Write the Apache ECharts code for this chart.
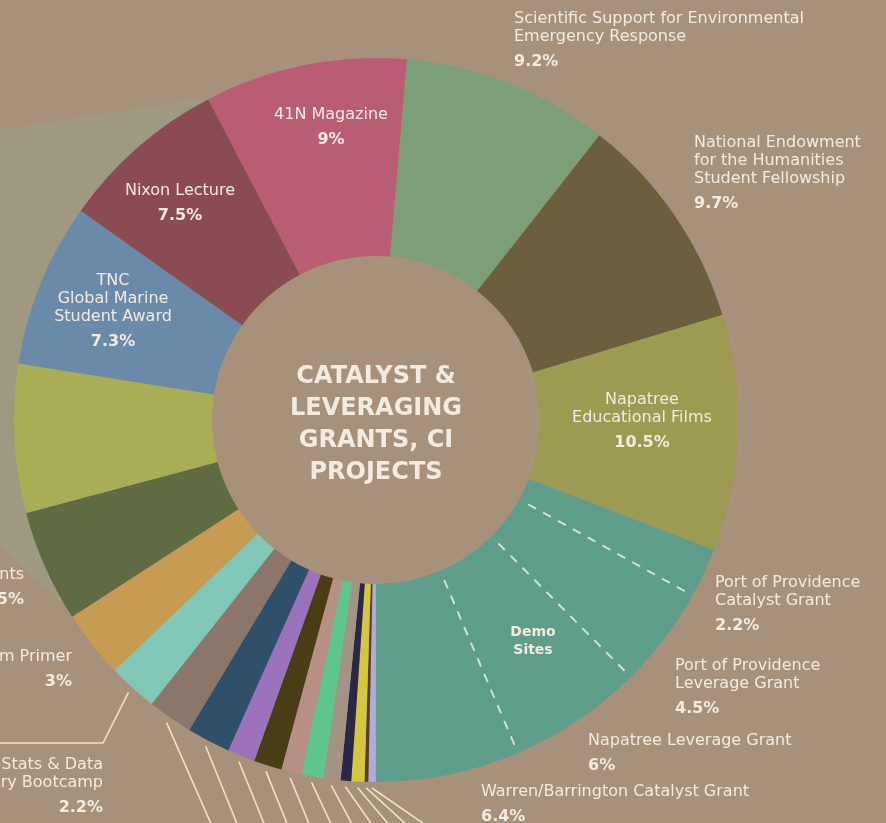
<!DOCTYPE html>
<html><head><meta charset="utf-8">
<script src="https://cdn.jsdelivr.net/npm/echarts@6/dist/echarts.min.js"></script>
<style>html,body{margin:0;padding:0;background:#a8917a;}#c{width:886px;height:823px;}</style>
</head><body><div id="c"></div>
<script>
// ---- data (clockwise from the top) ----
const sliceNames = [
  'Scientific Support for Environmental\nEmergency Response',
  'National Endowment\nfor the Humanities\nStudent Fellowship',
  'Napatree\nEducational Films',
  'Port of Providence\nCatalyst Grant',
  'Port of Providence\nLeverage Grant',
  'Napatree Leverage Grant',
  'Warren/Barrington Catalyst Grant',
  'Other project 1', 'Other project 2', 'Other project 3', 'Other project 4',
  'Other project 5', 'Other project 6', 'Other project 7', 'Other project 8',
  'Other project 9', 'Other project 10', 'Other project 11',
  'Stats & Data\nry Bootcamp',
  'm Primer',
  'nts',
  'Other project 12',
  'TNC\nGlobal Marine\nStudent Award',
  'Nixon Lecture',
  '41N Magazine'
];
const sliceValues = [9.2, 9.7, 10.5, 2.2, 4.5, 6, 6.4,
  0.33, 0.17, 0.58, 0.47, 0.75, 0.97, 0.92, 1.25, 1.22, 1.94, 2.0,
  2.2, 3, 5, 6.6, 7.3, 7.5, 9];
const sliceColors = ['#7d9f77', '#6d5f3e', '#9d9a52', '#5e9d8a', '#5e9d8a', '#5e9d8a', '#5e9d8a',
  '#b3a9dd', '#5a4020', '#d4c640', '#2b2847', '#a39384', '#5fc68b', '#b78f84', '#4a3d15',
  '#9c72bd', '#2f4f6b', '#8c766a', '#80c7b8', '#c89b52', '#5f6c43', '#a9ae56',
  '#6a8aa9', '#8b4b53', '#b95d73'];
const demoSiteIdx = [3, 4, 5, 6];          // sub-slices grouped as "Demo Sites"
const smallIdx = [7, 8, 9, 10, 11, 12, 13, 14, 15, 16, 17]; // labels below the frame

// ---- layout ----
const CX = 376, CY = 420, R0 = 164, R1 = 362, START_DEG = 4.9;
const labelPos = { // dataIndex: [x, top, align]
  0: [514, 10, 'left'], 1: [694, 134, 'left'], 2: [642, 391, 'center'],
  3: [715, 574, 'left'], 4: [675, 657, 'left'], 5: [588, 732, 'left'], 6: [481, 783, 'left'],
  18: [103, 756, 'right'], 19: [72, 648, 'right'], 20: [24, 566, 'right'],
  22: [113, 272, 'center'], 23: [180, 182, 'center'], 24: [331, 106, 'center']
};
const smallLineEndX = [427, 408, 390, 373, 353, 332, 310, 288, 265, 238, 212];
const TXT = '#f3ebdf';
const FONT = '"DejaVu Sans", "Liberation Sans", sans-serif';

const total = sliceValues.reduce((a, b) => a + b, 0);
const cum = [0];
sliceValues.forEach((v, i) => cum.push(cum[i] + v));
const ang = c => (START_DEG + c / total * 360) * Math.PI / 180;
const polar = (t, r) => [CX + r * Math.sin(t), CY - r * Math.cos(t)];
const midAng = i => ang((cum[i] + cum[i + 1]) / 2);

const graphics = [];
// faint translucent callout wedge behind the donut
graphics.push({ type: 'polygon', z: 0, silent: true,
  shape: { points: [[0, 130], [250, 91], [200, 200], [100, 420], [120, 600], [75, 615], [0, 545]] },
  style: { fill: '#9c9c84', opacity: 0.7 } });
// dashed separators between Demo Sites sub-slices
for (let k = 1; k < demoSiteIdx.length; k++) {
  const t = ang(cum[demoSiteIdx[k]]);
  const a = polar(t, R0 + 10), b = polar(t, R1 - 6);
  graphics.push({ type: 'line', z: 10, silent: true,
    shape: { x1: a[0], y1: a[1], x2: b[0], y2: b[1] },
    style: { stroke: 'rgba(225,238,228,0.85)', lineWidth: 2, lineDash: [9, 8] } });
}
// connector lines to labels below the frame
smallIdx.forEach((idx, k) => {
  const s = polar(midAng(idx), R1 + 6);
  graphics.push({ type: 'line', z: 10, silent: true,
    shape: { x1: s[0], y1: s[1], x2: smallLineEndX[k], y2: 826 },
    style: { stroke: '#eee2cc', lineWidth: 1.6 } });
});
// connector for Stats & Data slice
(function () {
  const s = polar(midAng(18), R1 + 6);
  graphics.push({ type: 'polyline', z: 10, silent: true,
    shape: { points: [s, [103, 743], [-5, 743]] },
    style: { stroke: '#eee2cc', lineWidth: 1.6, fill: null } });
})();
// group label
graphics.push({ type: 'text', z: 20, silent: true,
  style: { text: 'Demo\nSites', x: 533, y: 641, align: 'center', verticalAlign: 'middle',
    font: 'bold 14px ' + FONT, lineHeight: 18, fill: TXT } });
// centre title
graphics.push({ type: 'text', z: 20, silent: true,
  style: { text: 'CATALYST &\nLEVERAGING\nGRANTS, CI\nPROJECTS', x: CX, y: 425,
    align: 'center', verticalAlign: 'middle', font: 'bold 24px ' + FONT, lineHeight: 32, fill: TXT } });

const chart = echarts.init(document.getElementById('c'), null, { renderer: 'canvas' });
chart.setOption({
  backgroundColor: '#a8917a',
  animation: false,
  graphic: graphics,
  series: [{
    type: 'pie', z: 2,
    center: [CX, CY], radius: [R0, R1],
    startAngle: 90 - START_DEG, clockwise: true,
    avoidLabelOverlap: false,
    emphasis: { disabled: true },
    itemStyle: { borderWidth: 0 },
    label: {
      show: true, position: 'inside',
      formatter: p => labelPos[p.dataIndex] ? '{n|' + p.name + '}\n{p|' + p.value + '%}' : '',
      rich: {
        n: { fontFamily: FONT, fontSize: 16, color: TXT, lineHeight: 18 },
        p: { fontFamily: FONT, fontSize: 16, fontWeight: 'bold', color: TXT, lineHeight: 32 }
      }
    },
    labelLine: { show: false },
    labelLayout: p => {
      const lp = labelPos[p.dataIndex];
      if (!lp) return {};
      return { x: lp[0], y: lp[1], align: lp[2], verticalAlign: 'top' };
    },
    data: sliceNames.map((n, i) => ({ name: n, value: sliceValues[i], itemStyle: { color: sliceColors[i] } }))
  }]
});
</script></body></html>
